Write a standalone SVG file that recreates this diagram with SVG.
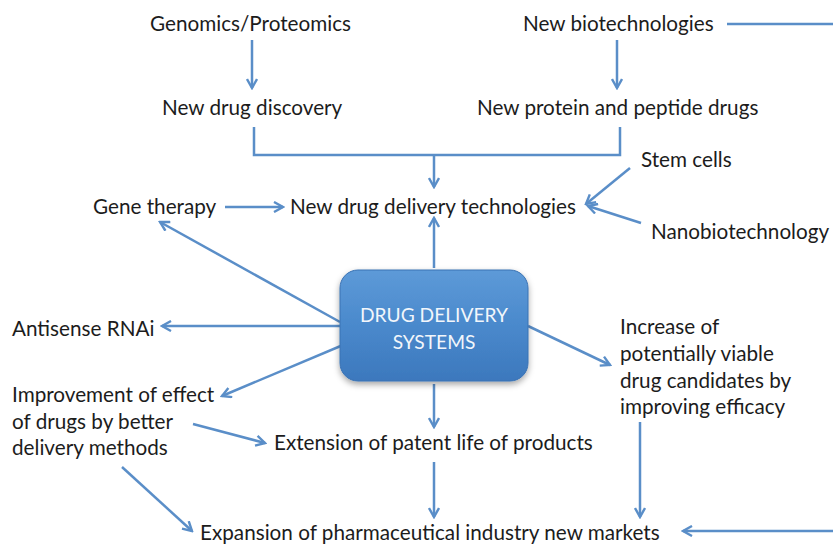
<svg xmlns="http://www.w3.org/2000/svg" width="833" height="544" viewBox="0 0 833 544">
<defs>
<linearGradient id="boxg" x1="0" y1="0" x2="0" y2="1">
<stop offset="0" stop-color="#5d9ad8"/>
<stop offset="0.5" stop-color="#4a89cc"/>
<stop offset="1" stop-color="#3c78bd"/>
</linearGradient>
<filter id="sh" x="-20%" y="-20%" width="140%" height="150%">
<feDropShadow dx="0" dy="3" stdDeviation="3" flood-color="#000" flood-opacity="0.35"/>
</filter>
<marker id="arr" viewBox="0 0 12 12" refX="10" refY="6" markerWidth="12" markerHeight="12" markerUnits="userSpaceOnUse" orient="auto">
<path d="M1,1 L10,6 L1,11" fill="none" stroke="#5a8ec8" stroke-width="2.4" stroke-linejoin="miter"/>
</marker>
<style>
.t{font-family:Lato,"Open Sans","Liberation Sans",sans-serif;font-size:20.7px;fill:#1c1c1c}
.c{stroke:#5a8ec8;stroke-width:2.5;fill:none}
.a{marker-end:url(#arr)}
.w{font-family:Lato,"Open Sans","Liberation Sans",sans-serif;font-size:19.2px;fill:#f2f6fb;text-anchor:middle}
</style>
</defs>
<rect width="833" height="544" fill="#fff"/>
<g id="connectors">
<path class="c a" d="M252,40 V88"/>
<path class="c a" d="M617,40 V88"/>
<path class="c" d="M254,127 V155 H620 V127"/>
<path class="c a" d="M434,155 V187"/>
<path class="c a" d="M225,207 H283"/>
<path class="c a" d="M630,168 L586,204"/>
<path class="c a" d="M641,223 L588,206"/>
<path class="c a" d="M434,268 V218"/>
<path class="c a" d="M340,322 L160,222"/>
<path class="c a" d="M340,326 H162"/>
<path class="c a" d="M343,345 L222,396"/>
<path class="c a" d="M193,424 L265,443"/>
<path class="c a" d="M434,384 V427"/>
<path class="c a" d="M528,326 L610,365"/>
<path class="c a" d="M640,422 V517"/>
<path class="c a" d="M434,462 V517"/>
<path class="c a" d="M122,467 L192,531"/>
<path class="c" d="M727,24 H833"/>
<path class="c a" d="M833,531 H683"/>
</g>
<g id="n-genomics"><text class="t" x="150" y="31">Genomics/Proteomics</text></g>
<g id="n-newbiotech"><text class="t" x="523" y="31">New biotechnologies</text></g>
<g id="n-newdrugdiscovery"><text class="t" x="162" y="115">New drug discovery</text></g>
<g id="n-newprotein"><text class="t" x="477" y="115">New protein and peptide drugs</text></g>
<g id="n-stemcells"><text class="t" x="641" y="167">Stem cells</text></g>
<g id="n-genetherapy"><text class="t" x="93" y="214">Gene therapy</text></g>
<g id="n-nddt"><text class="t" x="290" y="214">New drug delivery technologies</text></g>
<g id="n-nano"><text class="t" x="651" y="239">Nanobiotechnology</text></g>
<g id="n-dds">
<rect x="340" y="270" width="188" height="111" rx="18" fill="url(#boxg)" stroke="#3a72b3" stroke-width="1" filter="url(#sh)"/>
<text class="w" x="434" y="322">DRUG DELIVERY</text>
<text class="w" x="434" y="349">SYSTEMS</text>
</g>
<g id="n-antisense"><text class="t" x="12" y="336">Antisense RNAi</text></g>
<g id="n-increase">
<text class="t" x="620" y="334">Increase of</text>
<text class="t" x="620" y="361">potentially viable</text>
<text class="t" x="620" y="388">drug candidates by</text>
<text class="t" x="620" y="414">improving efficacy</text>
</g>
<g id="n-improvement">
<text class="t" x="12" y="402">Improvement of effect</text>
<text class="t" x="12" y="429">of drugs by better</text>
<text class="t" x="12" y="455">delivery methods</text>
</g>
<g id="n-extension"><text class="t" x="274" y="450">Extension of patent life of products</text></g>
<g id="n-expansion"><text class="t" x="200" y="540">Expansion of pharmaceutical industry new markets</text></g>
</svg>
